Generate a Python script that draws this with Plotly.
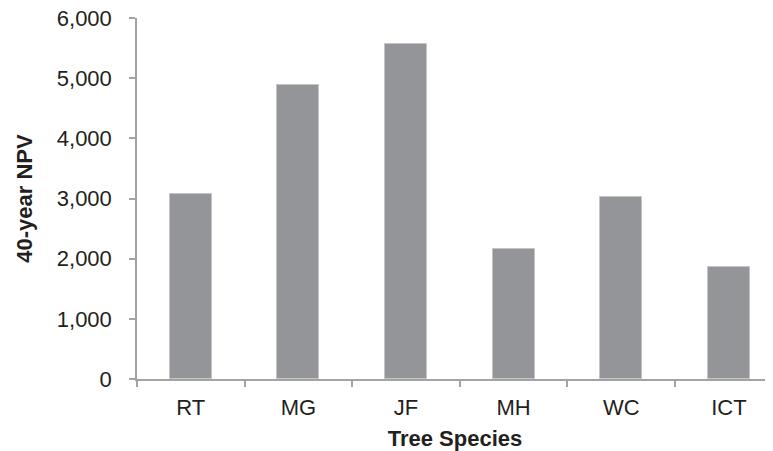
import plotly.graph_objects as go

species = ["RT", "MG", "JF", "MH", "WC", "ICT"]
npv = [3070, 4885, 5560, 2155, 3025, 1855]
y_ticks = [0, 1000, 2000, 3000, 4000, 5000, 6000]
y_tick_labels = ["0", "1,000", "2,000", "3,000", "4,000", "5,000", "6,000"]

fig = go.Figure(go.Bar(
    x=species, y=npv, width=0.39,
    marker=dict(color="#949599", line=dict(color="#c4c4c6", width=1)),
))

axis_col = "#a3a3a3"
font_col = "#231f20"
# the page body has an 8px default margin, so the figure is sized/offset to compensate
fig.update_layout(
    width=765, height=443,
    margin=dict(l=129, r=0, t=10, b=72),
    paper_bgcolor="white", plot_bgcolor="white",
    font=dict(family="Liberation Sans, Arial, sans-serif", size=22, color=font_col),
    showlegend=False,
    bargap=0,
    xaxis=dict(
        range=[-0.5, 5.41], tickson="boundaries", ticks="outside", ticklen=6,
        tickcolor=axis_col, tickwidth=1.5, showline=True, linecolor=axis_col, linewidth=1.5,
        showgrid=False, ticklabelstandoff=8, automargin=False,
        title=dict(text="<b>Tree Species</b>", font=dict(size=22), standoff=13),
    ),
    yaxis=dict(
        range=[0, 6000], tickvals=y_ticks, ticktext=y_tick_labels, ticks="outside", ticklen=6,
        tickcolor=axis_col, tickwidth=1.5, showline=True, linecolor=axis_col, linewidth=1.5,
        showgrid=False, zeroline=False, ticklabelstandoff=13, automargin=False,
        ticklabeloverflow="allow",
        title=dict(text="<b>40-year NPV</b>", font=dict(size=22), standoff=18),
    ),
)
fig.write_html("out.html")
